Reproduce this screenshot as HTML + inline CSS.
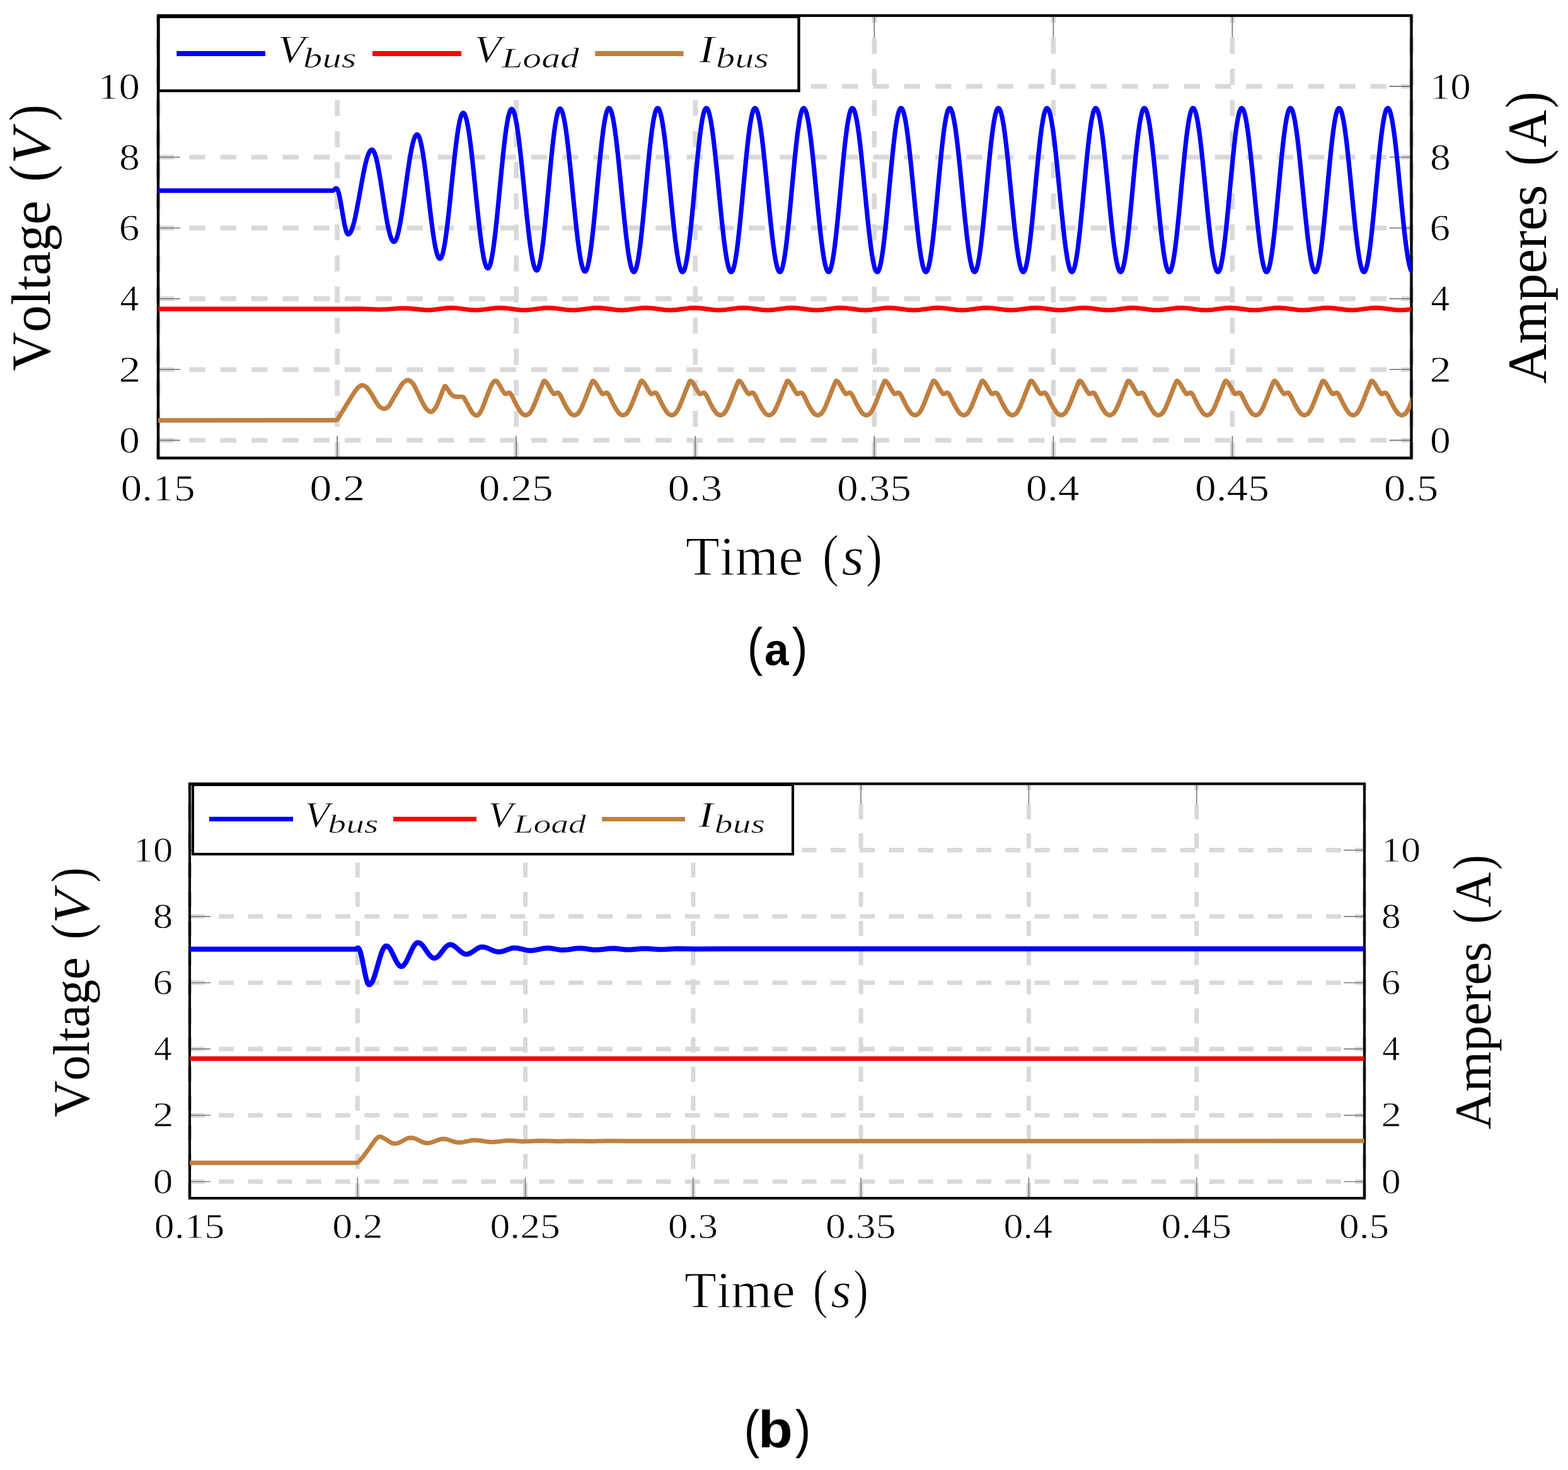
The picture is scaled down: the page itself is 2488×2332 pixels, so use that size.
<!DOCTYPE html><html><head><meta charset="utf-8"><title>Figure</title><style>html,body{margin:0;padding:0;background:#fff;}body{width:2488px;height:2332px;overflow:hidden;}svg{display:block;}text{font-kerning:none;}</style></head><body>
<svg width="2488" height="2332" viewBox="0 0 2488 2332" font-family="'Liberation Serif', 'Times New Roman', serif" fill="#000" text-rendering="geometricPrecision">
<rect width="2488" height="2332" fill="#fff"/>
<clipPath id="clipA"><rect x="251" y="24.7" width="1988.5" height="701.9"/></clipPath>
<path d="M251 698.5H2239.5M251 586.2H2239.5M251 473.9H2239.5M251 361.6H2239.5M251 249.3H2239.5M251 137H2239.5M251 726.6V24.7M535.1 726.6V24.7M819.1 726.6V24.7M1103.2 726.6V24.7M1387.3 726.6V24.7M1671.4 726.6V24.7M1955.4 726.6V24.7M2239.5 726.6V24.7" stroke="#d9d9d9" stroke-width="7.6" stroke-dasharray="25.40 23.92" fill="none"/>
<path d="M251 698.5h35M2239.5 698.5h-35M251 586.2h35M2239.5 586.2h-35M251 473.9h35M2239.5 473.9h-35M251 361.6h35M2239.5 361.6h-35M251 249.3h35M2239.5 249.3h-35M251 137h35M2239.5 137h-35M535.1 726.6v-35M535.1 24.7v35M819.1 726.6v-35M819.1 24.7v35M1103.2 726.6v-35M1103.2 24.7v35M1387.3 726.6v-35M1387.3 24.7v35M1671.4 726.6v-35M1671.4 24.7v35M1955.4 726.6v-35M1955.4 24.7v35" stroke="#7f7f7f" stroke-width="1.8" fill="none"/>
<rect x="251" y="24.7" width="1988.5" height="701.9" fill="none" stroke="#000" stroke-width="4.4"/>
<g clip-path="url(#clipA)" fill="none" stroke-linejoin="round" stroke-linecap="round">
<path stroke="#0000ff" stroke-width="7.20" d="M245 302.4 L528.5 302.3 L530 301.3 L532 299.3 L533 298.8 L534 298.8 L534.5 299.2 L535 299.8 L536 301.8 L537 304.7 L538 308.4 L539 312.8 L540 317.8 L541.5 326.2 L545 347.1 L546.5 355.2 L547.5 359.9 L548.5 364 L549.5 367.3 L550.5 369.7 L551 370.6 L551.5 371.2 L552 371.6 L553 371.6 L554.5 370.8 L556 368.8 L557.5 365.9 L559 362 L560.5 357.2 L562 351.6 L563.5 345.2 L565 338.2 L567 328 L569.5 314.4 L574.5 286.6 L576.5 276 L578.5 266.3 L580 259.7 L581.5 253.8 L583 248.7 L584.5 244.5 L586 241.2 L587.5 239 L589 237.7 L590 237.5 L591 237.8 L592 238.7 L593 240.1 L594 242.2 L595 244.7 L596 247.8 L597 251.4 L598.5 257.7 L600 265 L601.5 273.1 L603 281.8 L605 294.3 L610.5 329.9 L612.5 342.2 L614 350.7 L615.5 358.5 L617 365.5 L618.5 371.4 L619.5 374.8 L620.5 377.6 L621.5 379.9 L622.5 381.7 L623.5 382.8 L624.5 383.4 L625.5 383.4 L626.5 382.8 L627.5 381.6 L628.5 379.7 L629.5 377.3 L630.5 374.3 L631.5 370.7 L632.5 366.6 L634 359.6 L635.5 351.6 L637 342.6 L638.5 333 L640.5 319.3 L646.5 276.2 L648.5 262.6 L650 253 L651.5 244.2 L653 236.3 L654 231.5 L655 227.3 L656 223.6 L657 220.4 L658 217.8 L659 215.8 L660 214.4 L661 213.6 L662 213.4 L663 213.9 L664 215.2 L665 217.1 L666 219.8 L667 223.2 L668 227.3 L669 232 L670 237.3 L671 243.1 L672 249.5 L673.5 259.9 L675 271.3 L676.5 283.3 L679 304.2 L682.5 334 L684.5 350.2 L686 361.7 L687.5 372.3 L688.5 378.8 L689.5 384.8 L690.5 390.3 L691.5 395.2 L692.5 399.4 L693.5 403 L694.5 405.9 L695.5 408.1 L696.5 409.6 L697.5 410.4 L698.5 410.3 L699.5 409.5 L700.5 407.9 L701.5 405.4 L702.5 402.1 L703.5 398.1 L704.5 393.3 L705.5 387.8 L706.5 381.6 L707.5 374.8 L708.5 367.4 L709.5 359.6 L711 346.9 L712.5 333.3 L714.5 314.3 L719 270.4 L720.5 256.2 L722 242.7 L723.5 230 L724.5 222.1 L725.5 214.7 L726.5 208 L727.5 201.8 L728.5 196.3 L729.5 191.5 L730.5 187.5 L731.5 184.2 L732.5 181.7 L733.5 180 L734.5 179.2 L735.5 179.2 L736.5 180 L737.5 181.6 L738.5 184 L739.5 187.1 L740.5 191 L741.5 195.5 L742.5 200.8 L743.5 206.8 L744.5 213.3 L745.5 220.4 L746.5 228.1 L748 240.5 L749.5 253.7 L751 267.7 L753.5 292 L757 326.5 L759 345.5 L760.5 359.1 L762 371.8 L763 379.8 L764 387.2 L765 394.1 L766 400.4 L767 406.1 L768 411.1 L769 415.4 L770 419 L771 421.8 L772 423.9 L773 425.1 L774 425.6 L775 425.3 L776 424 L777 422 L778 419 L779 415.3 L780 410.7 L781 405.4 L782 399.3 L783 392.6 L784 385.2 L785 377.2 L786 368.7 L787.5 355 L789 340.5 L791 320.2 L795.5 273.2 L797 258 L798.5 243.5 L800 229.8 L801 221.3 L802 213.3 L803 206 L804 199.2 L805 193.1 L806 187.8 L807 183.3 L808 179.5 L809 176.6 L810 174.5 L811 173.3 L812 172.9 L813 173.4 L814 174.7 L815 176.8 L816 179.6 L817 183.2 L818 187.6 L819 192.6 L820 198.3 L821 204.7 L822 211.7 L823 219.2 L824.5 231.5 L826 244.7 L827.5 258.7 L829.5 278.3 L834.5 328.6 L836.5 348 L838 361.7 L839.5 374.6 L840.5 382.7 L841.5 390.2 L842.5 397.2 L843.5 403.6 L844.5 409.3 L845.5 414.4 L846.5 418.7 L847.5 422.3 L848.5 425.1 L849.5 427.2 L850.5 428.5 L851.5 429 L852.5 428.6 L853.5 427.3 L854.5 425.1 L855.5 422 L856.5 418 L857.5 413.2 L858.5 407.6 L859.5 401.2 L860.5 394.1 L861.5 386.3 L862.5 377.8 L863.5 368.9 L865 354.5 L866.5 339.3 L868.5 318.1 L872.5 274.7 L874 259 L875.5 243.9 L877 229.7 L878 220.9 L879 212.7 L880 205.1 L881 198.2 L882 192 L883 186.6 L884 182 L885 178.3 L886 175.5 L887 173.6 L888 172.5 L889 172.4 L890 173.2 L891 174.7 L892 177 L893 180.1 L894 184 L895 188.6 L896 193.9 L897 199.9 L898 206.5 L899 213.7 L900 221.5 L901.5 234 L903 247.5 L904.5 261.8 L906.5 281.7 L911 327.4 L913 347 L914.5 361 L916 374.2 L917 382.4 L918 390.1 L919 397.2 L920 403.8 L921 409.7 L922 414.9 L923 419.5 L924 423.3 L925 426.3 L926 428.5 L927 430 L928 430.6 L929 430.4 L930 429.4 L931 427.4 L932 424.6 L933 421 L934 416.5 L935 411.3 L936 405.3 L937 398.6 L938 391.2 L939 383.2 L940 374.6 L941.5 360.9 L943 346.2 L945 325.6 L950 272.4 L951.5 257 L953 242.3 L954.5 228.4 L955.5 219.8 L956.5 211.8 L957.5 204.3 L958.5 197.6 L959.5 191.5 L960.5 186.1 L961.5 181.6 L962.5 177.9 L963.5 175 L964.5 173 L965.5 171.8 L966.5 171.5 L967.5 172.1 L968.5 173.5 L969.5 175.7 L970.5 178.7 L971.5 182.5 L972.5 187 L973.5 192.3 L974.5 198.2 L975.5 204.8 L976.5 212 L977.5 219.8 L978.5 228.1 L980 241.4 L981.5 255.5 L983.5 275.3 L988.5 326.7 L990.5 346.6 L992 360.8 L993.5 374.1 L994.5 382.4 L995.5 390.3 L996.5 397.5 L997.5 404.2 L998.5 410.2 L999.5 415.5 L1000.5 420.1 L1001.5 424 L1002.5 427.1 L1003.5 429.3 L1004.5 430.8 L1005.5 431.5 L1006.5 431.3 L1007.5 430.2 L1008.5 428.2 L1009.5 425.4 L1010.5 421.7 L1011.5 417.1 L1012.5 411.8 L1013.5 405.7 L1014.5 398.9 L1015.5 391.4 L1016.5 383.2 L1017.5 374.6 L1019 360.6 L1020.5 345.7 L1022.5 324.8 L1027 276.4 L1028.5 260.7 L1030 245.7 L1031.5 231.5 L1032.5 222.6 L1033.5 214.3 L1034.5 206.6 L1035.5 199.5 L1036.5 193.2 L1037.5 187.6 L1038.5 182.8 L1039.5 178.8 L1040.5 175.6 L1041.5 173.4 L1042.5 172 L1043.5 171.5 L1044.5 171.9 L1045.5 173.1 L1046.5 175.1 L1047.5 178 L1048.5 181.6 L1049.5 185.9 L1050.5 191 L1051.5 196.8 L1052.5 203.2 L1053.5 210.3 L1054.5 217.9 L1055.5 226.1 L1057 239.3 L1058.5 253.3 L1060 268 L1062.5 293.5 L1066 329.4 L1068 349.2 L1069.5 363.2 L1071 376.4 L1072 384.6 L1073 392.3 L1074 399.4 L1075 405.9 L1076 411.7 L1077 416.8 L1078 421.2 L1079 424.9 L1080 427.8 L1081 429.8 L1082 431.1 L1083 431.5 L1084 431.1 L1085 429.8 L1086 427.6 L1087 424.5 L1088 420.5 L1089 415.8 L1090 410.2 L1091 403.9 L1092 396.9 L1093 389.2 L1094 380.9 L1095 372.1 L1096.5 358 L1098 342.9 L1100 321.9 L1104.5 273.5 L1106 257.9 L1107.5 243 L1109 229 L1110 220.3 L1111 212.1 L1112 204.6 L1113 197.7 L1114 191.6 L1115 186.2 L1116 181.6 L1117 177.9 L1118 174.9 L1119 172.9 L1120 171.8 L1121 171.6 L1122 172.2 L1123 173.6 L1124 175.8 L1125 178.9 L1126 182.7 L1127 187.2 L1128 192.5 L1129 198.5 L1130 205.1 L1131 212.3 L1132 220.1 L1133 228.4 L1134.5 241.7 L1136 255.9 L1138 275.7 L1143 327.1 L1145 347 L1146.5 361.1 L1148 374.5 L1149 382.8 L1150 390.6 L1151 397.8 L1152 404.5 L1153 410.4 L1154 415.7 L1155 420.3 L1156 424.1 L1157 427.2 L1158 429.4 L1159 430.9 L1160 431.5 L1161 431.3 L1162 430.1 L1163 428.1 L1164 425.3 L1165 421.5 L1166 416.9 L1167 411.6 L1168 405.4 L1169 398.6 L1170 391.1 L1171 382.9 L1172 374.2 L1173.5 360.2 L1175 345.3 L1177 324.4 L1181.5 276 L1183 260.3 L1184.5 245.3 L1186 231.1 L1187 222.3 L1188 214 L1189 206.3 L1190 199.3 L1191 192.9 L1192 187.4 L1193 182.6 L1194 178.6 L1195 175.5 L1196 173.3 L1197 172 L1198 171.5 L1199 172 L1200 173.2 L1201 175.2 L1202 178.1 L1203 181.7 L1204 186.1 L1205 191.2 L1206 197 L1207 203.5 L1208 210.6 L1209 218.3 L1210 226.5 L1211.5 239.6 L1213 253.7 L1214.5 268.4 L1217 293.9 L1220.5 329.8 L1222 344.7 L1223.5 359 L1225 372.5 L1226 380.9 L1227 388.8 L1228 396.2 L1229 403 L1230 409.1 L1231 414.6 L1232 419.3 L1233 423.3 L1234 426.5 L1235 429 L1236 430.6 L1237 431.4 L1238 431.4 L1239 430.5 L1240 428.7 L1241 426 L1242 422.4 L1243 418.1 L1244 412.9 L1245 406.9 L1246 400.2 L1247 392.8 L1248 384.8 L1249 376.2 L1250.5 362.4 L1252 347.6 L1253.5 332.1 L1256.5 300 L1259 273.1 L1260.5 257.5 L1262 242.6 L1263.5 228.7 L1264.5 220 L1265.5 211.8 L1266.5 204.3 L1267.5 197.5 L1268.5 191.4 L1269.5 186 L1270.5 181.4 L1271.5 177.7 L1272.5 174.9 L1273.5 172.9 L1274.5 171.8 L1275.5 171.6 L1276.5 172.2 L1277.5 173.7 L1278.5 175.9 L1279.5 179 L1280.5 182.8 L1281.5 187.4 L1282.5 192.7 L1283.5 198.7 L1284.5 205.4 L1285.5 212.6 L1286.5 220.4 L1288 233.1 L1289.5 246.7 L1291 261.2 L1293 281.2 L1297.5 327.5 L1299.5 347.3 L1301 361.5 L1302.5 374.8 L1303.5 383.1 L1304.5 390.9 L1305.5 398.1 L1306.5 404.7 L1307.5 410.7 L1308.5 415.9 L1309.5 420.5 L1310.5 424.3 L1311.5 427.3 L1312.5 429.5 L1313.5 430.9 L1314.5 431.5 L1315.5 431.2 L1316.5 430.1 L1317.5 428 L1318.5 425.1 L1319.5 421.3 L1320.5 416.7 L1321.5 411.3 L1322.5 405.2 L1323.5 398.3 L1324.5 390.7 L1325.5 382.6 L1326.5 373.8 L1328 359.8 L1329.5 344.9 L1331.5 324 L1336 275.6 L1337.5 259.9 L1339 244.9 L1340.5 230.7 L1341.5 221.9 L1342.5 213.6 L1343.5 206 L1344.5 199 L1345.5 192.7 L1346.5 187.2 L1347.5 182.4 L1348.5 178.5 L1349.5 175.4 L1350.5 173.2 L1351.5 171.9 L1352.5 171.5 L1353.5 172 L1354.5 173.3 L1355.5 175.3 L1356.5 178.2 L1357.5 181.9 L1358.5 186.3 L1359.5 191.4 L1360.5 197.3 L1361.5 203.8 L1362.5 210.9 L1363.5 218.6 L1364.5 226.8 L1366 240 L1367.5 254.1 L1369.5 273.8 L1375 330.2 L1376.5 345.1 L1378 359.4 L1379.5 372.8 L1380.5 381.2 L1381.5 389.1 L1382.5 396.5 L1383.5 403.2 L1384.5 409.3 L1385.5 414.8 L1386.5 419.5 L1387.5 423.5 L1388.5 426.6 L1389.5 429 L1390.5 430.6 L1391.5 431.4 L1392.5 431.4 L1393.5 430.4 L1394.5 428.6 L1395.5 425.9 L1396.5 422.3 L1397.5 417.9 L1398.5 412.6 L1399.5 406.7 L1400.5 399.9 L1401.5 392.5 L1402.5 384.5 L1403.5 375.9 L1405 362 L1406.5 347.2 L1408 331.7 L1411 299.5 L1413.5 272.7 L1415 257.1 L1416.5 242.3 L1418 228.3 L1419 219.6 L1420 211.5 L1421 204 L1422 197.2 L1423 191.1 L1424 185.8 L1425 181.3 L1426 177.6 L1427 174.8 L1428 172.8 L1429 171.7 L1430 171.6 L1431 172.2 L1432 173.7 L1433 176 L1434 179.1 L1435 183 L1436 187.6 L1437 192.9 L1438 199 L1439 205.6 L1440 212.9 L1441 220.8 L1442.5 233.4 L1444 247.1 L1445.5 261.5 L1447.5 281.6 L1452 327.9 L1454 347.7 L1455.5 361.9 L1457 375.1 L1458 383.4 L1459 391.2 L1460 398.4 L1461 405 L1462 410.9 L1463 416.1 L1464 420.6 L1465 424.4 L1466 427.4 L1467 429.6 L1468 430.9 L1469 431.5 L1470 431.2 L1471 430 L1472 427.9 L1473 425 L1474 421.2 L1475 416.5 L1476 411.1 L1477 404.9 L1478 398 L1479 390.4 L1480 382.2 L1481 373.5 L1482.5 359.4 L1484 344.5 L1486 323.5 L1490.5 275.1 L1492 259.5 L1493.5 244.5 L1495 230.4 L1496 221.6 L1497 213.3 L1498 205.7 L1499 198.7 L1500 192.5 L1501 187 L1502 182.2 L1503 178.4 L1504 175.3 L1505 173.2 L1506 171.9 L1507 171.5 L1508 172 L1509 173.3 L1510 175.4 L1511 178.3 L1512 182 L1513 186.5 L1514 191.7 L1515 197.5 L1516 204 L1517 211.2 L1518 218.9 L1519 227.1 L1520.5 240.4 L1522 254.4 L1524 274.2 L1529.5 330.6 L1531 345.5 L1532.5 359.7 L1534 373.2 L1535 381.6 L1536 389.4 L1537 396.8 L1538 403.5 L1539 409.6 L1540 415 L1541 419.7 L1542 423.6 L1543 426.8 L1544 429.1 L1545 430.7 L1546 431.4 L1547 431.3 L1548 430.4 L1549 428.5 L1550 425.7 L1551 422.1 L1552 417.7 L1553 412.4 L1554 406.4 L1555 399.7 L1556 392.2 L1557 384.2 L1558 375.5 L1559.5 361.6 L1561 346.8 L1562.5 331.3 L1565.5 299.1 L1568 272.3 L1569.5 256.7 L1571 241.9 L1572.5 228 L1573.5 219.3 L1574.5 211.2 L1575.5 203.7 L1576.5 197 L1577.5 190.9 L1578.5 185.6 L1579.5 181.1 L1580.5 177.5 L1581.5 174.7 L1582.5 172.7 L1583.5 171.7 L1584.5 171.6 L1585.5 172.3 L1586.5 173.8 L1587.5 176.1 L1588.5 179.3 L1589.5 183.2 L1590.5 187.8 L1591.5 193.2 L1592.5 199.2 L1593.5 205.9 L1594.5 213.2 L1595.5 221.1 L1597 233.8 L1598.5 247.5 L1600 261.9 L1602 282.1 L1606.5 328.3 L1608.5 348.1 L1610 362.2 L1611.5 375.5 L1612.5 383.7 L1613.5 391.5 L1614.5 398.6 L1615.5 405.2 L1616.5 411.1 L1617.5 416.3 L1618.5 420.8 L1619.5 424.5 L1620.5 427.5 L1621.5 429.6 L1622.5 431 L1623.5 431.5 L1624.5 431.2 L1625.5 430 L1626.5 427.8 L1627.5 424.9 L1628.5 421 L1629.5 416.3 L1630.5 410.9 L1631.5 404.6 L1632.5 397.7 L1633.5 390.1 L1634.5 381.9 L1635.5 373.1 L1637 359 L1638.5 344.1 L1640.5 323.1 L1645 274.7 L1646.5 259.1 L1648 244.1 L1649.5 230 L1650.5 221.2 L1651.5 213 L1652.5 205.4 L1653.5 198.5 L1654.5 192.2 L1655.5 186.8 L1656.5 182.1 L1657.5 178.2 L1658.5 175.2 L1659.5 173.1 L1660.5 171.9 L1661.5 171.5 L1662.5 172.1 L1663.5 173.4 L1664.5 175.5 L1665.5 178.5 L1666.5 182.2 L1667.5 186.7 L1668.5 191.9 L1669.5 197.8 L1670.5 204.3 L1671.5 211.5 L1672.5 219.2 L1673.5 227.5 L1675 240.7 L1676.5 254.8 L1678.5 274.6 L1684 331 L1685.5 345.9 L1687 360.1 L1688.5 373.5 L1689.5 381.9 L1690.5 389.7 L1691.5 397.1 L1692.5 403.8 L1693.5 409.8 L1694.5 415.2 L1695.5 419.8 L1696.5 423.7 L1697.5 426.9 L1698.5 429.2 L1699.5 430.7 L1700.5 431.5 L1701.5 431.3 L1702.5 430.3 L1703.5 428.4 L1704.5 425.6 L1705.5 422 L1706.5 417.5 L1707.5 412.2 L1708.5 406.1 L1709.5 399.4 L1710.5 391.9 L1711.5 383.8 L1712.5 375.2 L1714 361.3 L1715.5 346.4 L1717.5 325.6 L1722.5 271.9 L1724 256.3 L1725.5 241.5 L1727 227.6 L1728 219 L1729 210.9 L1730 203.5 L1731 196.7 L1732 190.7 L1733 185.4 L1734 181 L1735 177.3 L1736 174.6 L1737 172.7 L1738 171.7 L1739 171.6 L1740 172.3 L1741 173.9 L1742 176.3 L1743 179.4 L1744 183.3 L1745 188 L1746 193.4 L1747 199.5 L1748 206.2 L1749 213.5 L1750 221.4 L1751.5 234.2 L1753 247.9 L1754.5 262.3 L1756.5 282.5 L1761 328.7 L1763 348.5 L1764.5 362.6 L1766 375.8 L1767 384.1 L1768 391.8 L1769 398.9 L1770 405.5 L1771 411.3 L1772 416.5 L1773 421 L1774 424.7 L1775 427.6 L1776 429.7 L1777 431 L1778 431.5 L1779 431.1 L1780 429.9 L1781 427.7 L1782 424.7 L1783 420.8 L1784 416.1 L1785 410.6 L1786 404.4 L1787 397.4 L1788 389.8 L1789 381.5 L1790 372.7 L1791.5 358.6 L1793 343.7 L1795 322.7 L1799.5 274.3 L1801 258.7 L1802.5 243.7 L1804 229.7 L1805 220.9 L1806 212.7 L1807 205.1 L1808 198.2 L1809 192 L1810 186.5 L1811 181.9 L1812 178.1 L1813 175.1 L1814 173 L1815 171.8 L1816 171.5 L1817 172.1 L1818 173.5 L1819 175.6 L1820 178.6 L1821 182.4 L1822 186.9 L1823 192.1 L1824 198 L1825 204.6 L1826 211.8 L1827 219.5 L1828 227.8 L1829.5 241.1 L1831 255.2 L1833 275 L1838.5 331.4 L1840 346.3 L1841.5 360.5 L1843 373.9 L1844 382.2 L1845 390 L1846 397.3 L1847 404 L1848 410 L1849 415.4 L1850 420 L1851 423.9 L1852 427 L1853 429.3 L1854 430.8 L1855 431.5 L1856 431.3 L1857 430.3 L1858 428.3 L1859 425.5 L1860 421.8 L1861 417.3 L1862 412 L1863 405.9 L1864 399.1 L1865 391.6 L1866 383.5 L1867 374.8 L1868.5 360.9 L1870 346 L1872 325.1 L1876.5 276.7 L1878 261 L1879.5 246 L1881 231.7 L1882 222.9 L1883 214.5 L1884 206.8 L1885 199.7 L1886 193.4 L1887 187.7 L1888 182.9 L1889 178.9 L1890 175.7 L1891 173.4 L1892 172 L1893 171.5 L1894 171.9 L1895 173.1 L1896 175.1 L1897 177.9 L1898 181.4 L1899 185.8 L1900 190.8 L1901 196.6 L1902 203 L1903 210.1 L1904 217.7 L1905 225.9 L1906.5 239 L1908 253 L1909.5 267.7 L1912 293.2 L1915.5 329.1 L1917.5 348.9 L1919 363 L1920.5 376.2 L1921.5 384.4 L1922.5 392.1 L1923.5 399.2 L1924.5 405.7 L1925.5 411.5 L1926.5 416.7 L1927.5 421.1 L1928.5 424.8 L1929.5 427.7 L1930.5 429.8 L1931.5 431 L1932.5 431.5 L1933.5 431.1 L1934.5 429.8 L1935.5 427.6 L1936.5 424.6 L1937.5 420.7 L1938.5 415.9 L1939.5 410.4 L1940.5 404.1 L1941.5 397.1 L1942.5 389.5 L1943.5 381.2 L1944.5 372.4 L1946 358.3 L1947.5 343.2 L1949.5 322.3 L1954 273.9 L1955.5 258.3 L1957 243.3 L1958.5 229.3 L1959.5 220.6 L1960.5 212.4 L1961.5 204.8 L1962.5 197.9 L1963.5 191.8 L1964.5 186.3 L1965.5 181.7 L1966.5 178 L1967.5 175 L1968.5 173 L1969.5 171.8 L1970.5 171.6 L1971.5 172.1 L1972.5 173.5 L1973.5 175.7 L1974.5 178.8 L1975.5 182.5 L1976.5 187.1 L1977.5 192.3 L1978.5 198.3 L1979.5 204.9 L1980.5 212.1 L1981.5 219.9 L1982.5 228.2 L1984 241.4 L1985.5 255.6 L1987.5 275.4 L1992.5 326.8 L1994.5 346.7 L1996 360.9 L1997.5 374.2 L1998.5 382.5 L1999.5 390.4 L2000.5 397.6 L2001.5 404.3 L2002.5 410.3 L2003.5 415.6 L2004.5 420.2 L2005.5 424 L2006.5 427.1 L2007.5 429.4 L2008.5 430.8 L2009.5 431.5 L2010.5 431.3 L2011.5 430.2 L2012.5 428.2 L2013.5 425.4 L2014.5 421.6 L2015.5 417.1 L2016.5 411.7 L2017.5 405.6 L2018.5 398.8 L2019.5 391.3 L2020.5 383.2 L2021.5 374.5 L2023 360.5 L2024.5 345.6 L2026.5 324.7 L2031 276.3 L2032.5 260.6 L2034 245.6 L2035.5 231.4 L2036.5 222.5 L2037.5 214.2 L2038.5 206.5 L2039.5 199.5 L2040.5 193.1 L2041.5 187.5 L2042.5 182.7 L2043.5 178.7 L2044.5 175.6 L2045.5 173.4 L2046.5 172 L2047.5 171.5 L2048.5 171.9 L2049.5 173.1 L2050.5 175.2 L2051.5 178 L2052.5 181.6 L2053.5 186 L2054.5 191.1 L2055.5 196.8 L2056.5 203.3 L2057.5 210.4 L2058.5 218 L2059.5 226.2 L2061 239.4 L2062.5 253.4 L2064 268.1 L2066.5 293.6 L2070 329.5 L2071.5 344.4 L2073 358.7 L2074.5 372.2 L2075.5 380.7 L2076.5 388.6 L2077.5 396 L2078.5 402.8 L2079.5 408.9 L2080.5 414.4 L2081.5 419.2 L2082.5 423.2 L2083.5 426.4 L2084.5 428.9 L2085.5 430.6 L2086.5 431.4 L2087.5 431.4 L2088.5 430.5 L2089.5 428.7 L2090.5 426.1 L2091.5 422.6 L2092.5 418.2 L2093.5 413 L2094.5 407.1 L2095.5 400.4 L2096.5 393.1 L2097.5 385.1 L2098.5 376.5 L2100 362.7 L2101.5 347.9 L2103 332.4 L2106 300.3 L2108.5 273.4 L2110 257.8 L2111.5 242.9 L2113 228.9 L2114 220.2 L2115 212.1 L2116 204.5 L2117 197.7 L2118 191.5 L2119 186.1 L2120 181.6 L2121 177.8 L2122 174.9 L2123 172.9 L2124 171.8 L2125 171.6 L2126 172.2 L2127 173.6 L2128 175.9 L2129 178.9 L2130 182.7 L2131 187.3 L2132 192.5 L2133 198.5 L2134 205.2 L2135 212.4 L2136 220.2 L2137.5 232.8 L2139 246.5 L2140.5 260.9 L2142.5 280.9 L2147 327.2 L2149 347.1 L2150.5 361.2 L2152 374.5 L2153 382.9 L2154 390.7 L2155 397.9 L2156 404.5 L2157 410.5 L2158 415.8 L2159 420.3 L2160 424.2 L2161 427.2 L2162 429.4 L2163 430.9 L2164 431.5 L2165 431.3 L2166 430.1 L2167 428.1 L2168 425.2 L2169 421.5 L2170 416.9 L2171 411.5 L2172 405.4 L2173 398.5 L2174 391 L2175 382.8 L2176 374.1 L2177.5 360.1 L2179 345.2 L2181 324.3 L2185.5 275.9 L2187 260.2 L2188.5 245.2 L2190 231 L2191 222.2 L2192 213.9 L2193 206.2 L2194 199.2 L2195 192.9 L2196 187.3 L2197 182.5 L2198 178.6 L2199 175.5 L2200 173.3 L2201 172 L2202 171.5 L2203 172 L2204 173.2 L2205 175.3 L2206 178.1 L2207 181.8 L2208 186.1 L2209 191.3 L2210 197.1 L2211 203.6 L2212 210.7 L2213 218.3 L2214 226.5 L2215.5 239.7 L2217 253.8 L2218.5 268.5 L2221 294 L2224.5 329.9 L2226 344.8 L2227.5 359.1 L2229 372.6 L2230 381 L2231 388.9 L2232 396.3 L2233 403 L2234 409.2 L2235 414.6 L2236 419.4 L2237 423.3 L2238 426.6 L2239 429 L2240 430.6 L2241 431.4 L2242 431.4 L2243 430.5 L2244 428.7 L2245 426"/>
<path stroke="#ff0000" stroke-width="7.20" d="M245 490.2 L550 490.1 L572 489.9 L602 491 L615 490.5 L636 489 L646.5 489.1 L660 490.4 L673 491.7 L682 491.8 L691.5 490.9 L708 488.7 L717 488.4 L726.5 489 L747 491.7 L756 492 L765.5 491.3 L785.5 488.7 L794.5 488.4 L804 489 L824 491.6 L833 492 L842.5 491.3 L862.5 488.7 L871.5 488.4 L881 489 L901.5 491.7 L910.5 492 L920 491.3 L940 488.7 L949 488.4 L958.5 489.1 L978.5 491.6 L987.5 492 L997 491.3 L1017 488.7 L1026 488.4 L1035.5 489 L1055.5 491.6 L1064.5 492 L1074 491.4 L1094.5 488.7 L1103.5 488.4 L1113 489.1 L1133 491.6 L1142 492 L1151.5 491.3 L1171.5 488.7 L1180.5 488.4 L1190 489 L1210 491.6 L1219 492 L1228.5 491.3 L1249 488.7 L1258 488.4 L1267.5 489.1 L1287.5 491.6 L1296.5 492 L1306 491.3 L1326 488.7 L1335 488.4 L1344.5 489 L1364.5 491.6 L1373.5 492 L1383 491.3 L1403.5 488.7 L1412.5 488.4 L1422 489.1 L1442 491.7 L1451 492 L1460.5 491.3 L1480.5 488.7 L1489.5 488.4 L1499 489 L1519 491.6 L1528 492 L1537.5 491.3 L1557.5 488.7 L1566.5 488.4 L1576 489 L1596.5 491.7 L1605.5 492 L1615 491.3 L1635 488.7 L1644 488.4 L1653.5 489 L1673.5 491.6 L1682.5 492 L1692 491.3 L1712 488.7 L1721 488.4 L1730.5 489 L1751 491.7 L1760 492 L1769.5 491.3 L1789.5 488.7 L1798.5 488.4 L1808 489 L1828 491.6 L1837 492 L1846.5 491.3 L1866.5 488.7 L1875.5 488.4 L1885 489 L1905.5 491.7 L1914.5 492 L1924 491.3 L1944 488.7 L1953 488.4 L1962.5 489.1 L1982.5 491.6 L1991.5 492 L2001 491.3 L2021 488.7 L2030 488.4 L2039.5 489 L2059.5 491.6 L2068.5 492 L2078 491.4 L2098.5 488.7 L2107.5 488.4 L2117 489.1 L2137 491.6 L2146 492 L2155.5 491.3 L2175.5 488.7 L2184.5 488.4 L2194 489 L2214 491.6 L2223 492 L2232.5 491.3 L2245 489.6"/>
<path stroke="#bf8040" stroke-width="7.20" d="M245 666.8 L531.5 666.7 L534.5 666 L535.5 665.2 L537 663.1 L540 658.1 L544.5 650.9 L561 624.2 L564 619.9 L567.5 615.4 L569.5 613.5 L573 611.5 L575 611.2 L577.5 611.9 L581 613.8 L583 615.8 L586.5 620.6 L589.5 625 L595.5 635.4 L600.5 643.2 L602 644.9 L604.5 646.6 L607.5 648.1 L610 648.5 L612 648 L615 646 L617 644.2 L618.5 642.1 L621.5 636.8 L624.5 631.4 L632 618.8 L637 610.5 L639 607.9 L642.5 605 L645 603.5 L647 603 L649 603.5 L651.5 604.9 L654.5 607.5 L656 609.4 L658 612.9 L664 625.1 L668.5 634.9 L673 643.4 L675 646.6 L676.5 648.6 L680.5 652.3 L682.5 653.4 L684 653.5 L685.5 653 L687.5 651.3 L690.5 647.9 L692 645.4 L694 641.1 L698 631.5 L701.5 622.2 L703 618.5 L704.5 614.7 L705 613.7 L705.5 613 L706 612.6 L706.5 612.6 L707.5 613.4 L712 620.1 L714 623.2 L716.5 625.9 L719 628 L720.5 628.8 L726 629.4 L734.5 629.5 L735.5 630.3 L737 632.4 L742 641.5 L745.5 648.2 L749 654.1 L750.5 655.9 L753.5 658.2 L755.5 659.1 L757 659.1 L758.5 658.5 L760 657.1 L761.5 655.1 L763.5 651.6 L765.5 647.2 L768 641 L775.5 620.8 L778 614.8 L780 610.7 L782 607.4 L783.5 605.6 L785 604.5 L786.5 604.2 L787.5 604.5 L789 605.9 L791 608.3 L793 611.7 L797.5 619.7 L800.5 624 L801.5 624.9 L802.5 624.9 L807 623.1 L808 623 L809 623.4 L811 625.6 L812 627.2 L819 641.6 L822.5 647.8 L826.5 653.8 L828 655.8 L829.5 657 L832.5 658.4 L834.5 658.6 L836.5 658.1 L839.5 656.3 L841 654.8 L843 651.6 L845.5 647 L848 641.3 L851.5 632.6 L857 618.3 L860.5 609.9 L862 606.1 L862.5 605.2 L863 604.5 L863.5 604.2 L864.5 604.4 L866 605.7 L868.5 608.7 L875 620.1 L878 624.3 L879 624.9 L880.5 624.6 L884 623.2 L885.5 623 L886.5 623.7 L888.5 626 L889.5 627.7 L896 641.1 L899.5 647.4 L903 652.8 L905 655.5 L906.5 656.9 L909.5 658.3 L911.5 658.6 L913.5 658.2 L916.5 656.5 L918 655.1 L920 652 L922.5 647.5 L924.5 643 L928 634.5 L934 618.9 L936.5 612.9 L939 606.6 L939.5 605.6 L940 604.8 L940.5 604.3 L941.5 604.3 L943 605.4 L945.5 608.3 L947.5 611.8 L952 619.7 L955 624 L956 624.9 L957 624.8 L961.5 623.1 L962.5 623 L963.5 623.5 L965.5 625.7 L966.5 627.3 L973.5 641.7 L977 647.9 L981 653.9 L982.5 655.8 L984 657 L987 658.4 L989 658.6 L991 658.1 L994 656.3 L995.5 654.7 L997.5 651.5 L1000 646.9 L1002.5 641.2 L1005.5 633.8 L1011.5 618.2 L1015 609.8 L1016.5 606 L1017 605.1 L1017.5 604.5 L1018 604.2 L1019 604.4 L1020.5 605.7 L1023 608.7 L1029.5 620.2 L1032 623.8 L1033 624.8 L1034 624.9 L1039 623 L1040 623 L1041 623.7 L1043 626 L1044.5 628.8 L1050.5 641.2 L1054 647.5 L1058 653.6 L1060 656.1 L1061.5 657.2 L1064.5 658.4 L1066.5 658.6 L1068.5 657.9 L1071.5 656.1 L1073 654.3 L1075.5 650.2 L1077.5 646.3 L1080.5 639.3 L1083.5 631.7 L1089 617.6 L1092 610.4 L1093.5 606.5 L1094 605.5 L1094.5 604.7 L1095 604.3 L1096 604.3 L1097.5 605.5 L1100 608.4 L1102 611.9 L1106.5 619.8 L1109.5 624.1 L1110.5 624.9 L1111.5 624.8 L1116 623.1 L1117 623 L1118 623.5 L1120 625.7 L1121 627.3 L1128 641.7 L1131.5 647.9 L1136 654.6 L1137.5 656.3 L1140 657.8 L1142.5 658.6 L1144.5 658.4 L1147 657.2 L1149 655.8 L1150.5 653.9 L1153.5 648.8 L1155.5 644.6 L1159.5 634.9 L1166 618.1 L1169.5 609.7 L1171 606 L1171.5 605.1 L1172 604.4 L1172.5 604.2 L1173.5 604.4 L1175 605.7 L1177.5 608.8 L1183.5 619.4 L1186.5 623.8 L1187.5 624.8 L1188.5 624.9 L1193 623.1 L1194.5 623.1 L1195.5 623.7 L1197.5 626.1 L1199 628.9 L1205 641.3 L1208.5 647.6 L1212.5 653.6 L1214.5 656.1 L1216 657.2 L1219 658.5 L1221 658.6 L1223 657.9 L1226 656 L1227.5 654.3 L1230 650.1 L1232 646.2 L1235 639.2 L1238 631.6 L1243.5 617.5 L1246.5 610.3 L1248 606.5 L1248.5 605.4 L1249 604.7 L1249.5 604.2 L1250.5 604.3 L1252 605.5 L1254.5 608.5 L1256.5 611.9 L1261 619.9 L1264 624.1 L1265 624.9 L1266 624.8 L1270 623.2 L1271.5 623 L1272.5 623.5 L1274.5 625.8 L1275.5 627.4 L1282 640.9 L1285.5 647.2 L1288.5 651.8 L1291 655.3 L1292.5 656.8 L1295.5 658.2 L1297.5 658.6 L1299.5 658.2 L1302.5 656.6 L1304 655.2 L1305.5 653.1 L1308.5 647.8 L1310.5 643.4 L1314.5 633.6 L1320.5 618 L1323.5 610.9 L1325 607 L1326 605 L1326.5 604.4 L1327 604.2 L1328 604.5 L1329.5 605.8 L1331.5 608.1 L1333 610.6 L1338 619.5 L1341 623.9 L1342 624.8 L1343 624.9 L1347.5 623.1 L1349 623.1 L1350 623.8 L1352 626.2 L1353.5 629 L1359.5 641.4 L1363 647.6 L1367 653.7 L1369 656.2 L1370.5 657.2 L1373.5 658.5 L1375.5 658.6 L1377.5 657.9 L1380.5 656 L1382 654.2 L1384.5 650 L1386.5 646.2 L1390 637.9 L1394 627.6 L1399 614.9 L1401 610.2 L1402.5 606.4 L1403 605.4 L1403.5 604.6 L1404 604.2 L1405 604.4 L1406.5 605.5 L1409 608.5 L1411.5 612.9 L1415.5 619.9 L1418.5 624.2 L1419.5 624.9 L1421 624.6 L1424.5 623.2 L1426 623 L1427 623.6 L1429 625.8 L1430 627.5 L1436.5 640.9 L1440 647.2 L1443.5 652.6 L1445.5 655.4 L1447 656.8 L1450 658.2 L1452 658.6 L1454 658.2 L1457 656.6 L1458.5 655.2 L1460 653 L1463 647.7 L1465 643.3 L1469 633.4 L1475 617.9 L1478 610.8 L1479.5 606.9 L1480.5 604.9 L1481 604.4 L1481.5 604.2 L1482.5 604.5 L1484 605.8 L1486 608.2 L1487.5 610.7 L1492.5 619.6 L1495.5 623.9 L1496.5 624.8 L1497.5 624.9 L1502 623.1 L1503 623 L1504 623.4 L1506 625.5 L1507 627.1 L1514 641.4 L1517.5 647.7 L1521.5 653.7 L1523.5 656.2 L1525.5 657.5 L1528 658.5 L1530 658.6 L1532.5 657.6 L1535 656 L1536.5 654.2 L1539 649.9 L1541 646.1 L1544.5 637.8 L1553 616 L1555.5 610.1 L1557 606.3 L1557.5 605.3 L1558 604.6 L1558.5 604.2 L1559.5 604.4 L1561 605.6 L1563.5 608.6 L1570 620 L1573 624.2 L1574 624.9 L1575.5 624.6 L1579 623.2 L1580.5 623 L1581.5 623.6 L1583.5 625.9 L1584.5 627.6 L1591 641 L1594.5 647.3 L1598 652.7 L1600 655.4 L1601.5 656.8 L1604.5 658.3 L1606.5 658.6 L1608.5 658.2 L1611.5 656.5 L1613 655.1 L1614.5 653 L1617.5 647.6 L1619.5 643.2 L1623.5 633.3 L1629.5 617.8 L1632.5 610.7 L1634 606.8 L1635 604.9 L1635.5 604.3 L1636 604.2 L1637 604.5 L1638.5 605.9 L1640.5 608.2 L1642.5 611.7 L1647 619.6 L1650 624 L1651 624.8 L1652 624.9 L1656.5 623.1 L1657.5 623 L1658.5 623.4 L1660.5 625.6 L1661.5 627.1 L1668.5 641.5 L1672 647.8 L1676 653.8 L1677.5 655.7 L1679 657 L1682 658.3 L1684 658.6 L1686 658.1 L1689 656.3 L1690.5 654.8 L1692.5 651.6 L1695 647 L1697.5 641.3 L1701 632.6 L1706.5 618.4 L1710 610 L1711.5 606.2 L1712 605.2 L1712.5 604.5 L1713 604.2 L1714 604.4 L1715.5 605.6 L1718 608.6 L1724.5 620 L1727.5 624.3 L1728.5 624.9 L1730 624.6 L1733.5 623.2 L1735 623 L1736 623.6 L1738 625.9 L1739 627.7 L1745.5 641.1 L1749 647.4 L1752.5 652.7 L1754.5 655.5 L1756 656.8 L1759 658.3 L1761 658.6 L1763 658.2 L1766 656.5 L1767.5 655.1 L1769.5 652 L1772 647.5 L1774 643.1 L1777.5 634.5 L1783.5 619 L1786 613 L1787.5 609.2 L1788.5 606.7 L1789.5 604.8 L1790 604.3 L1790.5 604.2 L1791.5 604.5 L1793 605.9 L1795 608.3 L1797 611.7 L1801.5 619.7 L1804.5 624 L1805.5 624.9 L1806.5 624.9 L1811 623.1 L1812 623 L1813 623.5 L1815 625.6 L1816 627.2 L1823 641.6 L1826.5 647.8 L1830.5 653.9 L1832 655.8 L1833.5 657 L1836.5 658.4 L1838.5 658.6 L1840.5 658.1 L1843.5 656.3 L1845 654.7 L1847 651.6 L1849.5 647 L1852 641.3 L1855.5 632.5 L1861 618.3 L1864.5 609.9 L1866 606.1 L1866.5 605.2 L1867 604.5 L1867.5 604.2 L1868.5 604.4 L1870 605.7 L1872.5 608.7 L1879 620.1 L1881.5 623.7 L1882.5 624.7 L1883.5 624.9 L1888.5 623 L1889.5 623 L1890.5 623.7 L1892.5 626 L1893.5 627.7 L1900 641.2 L1903.5 647.4 L1907 652.8 L1909 655.5 L1910.5 656.9 L1913.5 658.3 L1915.5 658.6 L1917.5 658.2 L1920.5 656.5 L1922 655 L1924 652 L1926.5 647.4 L1928.5 643 L1932 634.4 L1938 618.9 L1940.5 612.9 L1943 606.6 L1943.5 605.6 L1944 604.8 L1944.5 604.3 L1945.5 604.3 L1947 605.4 L1949.5 608.4 L1951.5 611.8 L1956 619.7 L1959 624.1 L1960 624.9 L1961 624.8 L1965.5 623.1 L1966.5 623 L1967.5 623.5 L1969.5 625.7 L1970.5 627.3 L1977.5 641.7 L1981 647.9 L1985.5 654.6 L1987 656.3 L1989.5 657.8 L1992 658.6 L1994 658.4 L1996.5 657.3 L1998.5 655.9 L2000 654 L2003 648.8 L2005 644.7 L2009 635 L2015.5 618.2 L2019 609.7 L2020.5 606 L2021 605.1 L2021.5 604.5 L2022 604.2 L2023 604.4 L2024.5 605.7 L2027 608.8 L2033 619.4 L2036 623.8 L2037 624.8 L2038 624.9 L2043 623 L2044 623.1 L2045 623.7 L2047 626 L2048.5 628.9 L2054.5 641.2 L2058 647.5 L2062 653.6 L2064 656.1 L2065.5 657.2 L2068.5 658.4 L2070.5 658.6 L2072.5 657.9 L2075.5 656.1 L2077 654.3 L2079.5 650.1 L2081.5 646.3 L2084.5 639.3 L2087.5 631.7 L2093 617.5 L2096 610.4 L2097.5 606.5 L2098 605.5 L2098.5 604.7 L2099 604.3 L2100 604.3 L2101.5 605.5 L2104 608.4 L2106 611.9 L2110.5 619.8 L2113.5 624.1 L2114.5 624.9 L2115.5 624.8 L2120 623.1 L2121 623 L2122 623.5 L2124 625.7 L2125 627.4 L2132 641.8 L2135.5 648 L2140 654.7 L2141.5 656.4 L2144 657.8 L2146.5 658.6 L2148.5 658.4 L2151 657.2 L2153 655.8 L2154.5 653.9 L2157.5 648.8 L2159.5 644.6 L2163.5 634.9 L2170 618.1 L2173 611 L2174.5 607.1 L2175.5 605 L2176 604.4 L2176.5 604.2 L2177.5 604.5 L2179 605.8 L2181.5 608.8 L2187.5 619.4 L2190.5 623.8 L2191.5 624.8 L2192.5 624.9 L2197 623.1 L2198.5 623.1 L2199.5 623.8 L2201.5 626.1 L2203 628.9 L2209 641.3 L2212.5 647.6 L2216.5 653.6 L2218.5 656.1 L2220 657.2 L2223 658.5 L2225 658.6 L2227 657.9 L2230 656 L2231.5 654.3 L2234 650.1 L2236 646.2 L2239.5 638 L2243 629 L2245 623.8"/>
</g>
<rect x="251.5" y="26.6" width="1016" height="117.4" fill="#fff" stroke="#000" stroke-width="4.4"/>
<path d="M280.3 85H421" stroke="#0000ff" stroke-width="8.20"/>
<path d="M591 85H732.1" stroke="#ff0000" stroke-width="8.20"/>
<path d="M944.2 85H1084.6" stroke="#bf8040" stroke-width="8.20"/>
<text stroke="#fff" stroke-width="0.85" x="440.69" y="99.40" font-size="62.07" font-style="italic" textLength="43.05" lengthAdjust="spacingAndGlyphs">V</text>
<text stroke="#fff" stroke-width="0.62" x="481.04" y="106.91" font-size="45.02" font-style="italic" textLength="84.41" lengthAdjust="spacingAndGlyphs">bus</text>
<text stroke="#fff" stroke-width="0.85" x="752.19" y="99.40" font-size="62.07" font-style="italic" textLength="43.05" lengthAdjust="spacingAndGlyphs">V</text>
<text stroke="#fff" stroke-width="0.62" x="796.19" y="106.91" font-size="45.02" font-style="italic" textLength="122.57" lengthAdjust="spacingAndGlyphs">Load</text>
<text stroke="#fff" stroke-width="0.85" x="1109.06" y="99.40" font-size="62.07" font-style="italic" textLength="24.58" lengthAdjust="spacingAndGlyphs">I</text>
<text stroke="#fff" stroke-width="0.62" x="1136.05" y="106.91" font-size="45.02" font-style="italic" textLength="83.99" lengthAdjust="spacingAndGlyphs">bus</text>
<text stroke="#fff" stroke-width="0.80" x="189.10" y="718.04" font-size="58.70" textLength="32.80" lengthAdjust="spacingAndGlyphs">0</text>
<text stroke="#fff" stroke-width="0.80" x="2268.90" y="718.04" font-size="58.70" textLength="32.80" lengthAdjust="spacingAndGlyphs">0</text>
<text stroke="#fff" stroke-width="0.80" x="188.55" y="605.74" font-size="58.70" textLength="34.68" lengthAdjust="spacingAndGlyphs">2</text>
<text stroke="#fff" stroke-width="0.80" x="2268.35" y="605.74" font-size="58.70" textLength="34.68" lengthAdjust="spacingAndGlyphs">2</text>
<text stroke="#fff" stroke-width="0.80" x="190.43" y="493.44" font-size="58.70" textLength="29.90" lengthAdjust="spacingAndGlyphs">4</text>
<text stroke="#fff" stroke-width="0.80" x="2270.23" y="493.44" font-size="58.70" textLength="29.90" lengthAdjust="spacingAndGlyphs">4</text>
<text stroke="#fff" stroke-width="0.80" x="188.80" y="381.14" font-size="58.70" textLength="32.54" lengthAdjust="spacingAndGlyphs">6</text>
<text stroke="#fff" stroke-width="0.80" x="2268.60" y="381.14" font-size="58.70" textLength="32.54" lengthAdjust="spacingAndGlyphs">6</text>
<text stroke="#fff" stroke-width="0.80" x="189.10" y="268.84" font-size="58.70" textLength="32.80" lengthAdjust="spacingAndGlyphs">8</text>
<text stroke="#fff" stroke-width="0.80" x="2268.90" y="268.84" font-size="58.70" textLength="32.80" lengthAdjust="spacingAndGlyphs">8</text>
<text stroke="#fff" stroke-width="0.80" x="154.91" y="156.54" font-size="58.70" textLength="67.05" lengthAdjust="spacingAndGlyphs">10</text>
<text stroke="#fff" stroke-width="0.80" x="2268.67" y="156.54" font-size="58.70" textLength="65.22" lengthAdjust="spacingAndGlyphs">10</text>
<text stroke="#fff" stroke-width="0.80" x="191.63" y="793.74" font-size="58.70" textLength="118.00" lengthAdjust="spacingAndGlyphs">0.15</text>
<text stroke="#fff" stroke-width="0.80" x="491.34" y="793.74" font-size="58.70" textLength="87.86" lengthAdjust="spacingAndGlyphs">0.2</text>
<text stroke="#fff" stroke-width="0.80" x="759.77" y="793.74" font-size="58.70" textLength="118.00" lengthAdjust="spacingAndGlyphs">0.25</text>
<text stroke="#fff" stroke-width="0.80" x="1059.52" y="793.74" font-size="58.70" textLength="86.65" lengthAdjust="spacingAndGlyphs">0.3</text>
<text stroke="#fff" stroke-width="0.80" x="1327.92" y="793.74" font-size="58.70" textLength="118.00" lengthAdjust="spacingAndGlyphs">0.35</text>
<text stroke="#fff" stroke-width="0.80" x="1627.72" y="793.74" font-size="58.70" textLength="84.95" lengthAdjust="spacingAndGlyphs">0.4</text>
<text stroke="#fff" stroke-width="0.80" x="1896.06" y="793.74" font-size="58.70" textLength="118.00" lengthAdjust="spacingAndGlyphs">0.45</text>
<text stroke="#fff" stroke-width="0.80" x="2195.81" y="793.74" font-size="58.70" textLength="86.65" lengthAdjust="spacingAndGlyphs">0.5</text>
<text stroke="#fff" stroke-width="1.20" x="1087.70" y="911.70" font-size="87.80" textLength="186.97" lengthAdjust="spacingAndGlyphs">Time</text>
<text stroke="#fff" stroke-width="1.27" x="1304.90" y="911.73" font-size="92.70" textLength="26.28" lengthAdjust="spacingAndGlyphs">(</text>
<text stroke="#fff" stroke-width="1.20" x="1335.27" y="911.70" font-size="87.80" font-style="italic" textLength="36.03" lengthAdjust="spacingAndGlyphs">s</text>
<text stroke="#fff" stroke-width="1.27" x="1373.72" y="911.73" font-size="92.70" textLength="26.28" lengthAdjust="spacingAndGlyphs">)</text>
<text class="e" transform="translate(79.40,0) rotate(-90)" x="-588.56" y="0" font-size="87.80" textLength="270.32" lengthAdjust="spacingAndGlyphs">Voltage</text>
<text class="e" transform="translate(79.40,0) rotate(-90)" x="-288.32" y="0" font-size="93.30" textLength="26.71" lengthAdjust="spacingAndGlyphs">(</text>
<text class="e" transform="translate(79.40,0) rotate(-90)" x="-260.00" y="0" font-size="87.80" font-style="italic" textLength="54.95" lengthAdjust="spacingAndGlyphs">V</text>
<text class="e" transform="translate(79.40,0) rotate(-90)" x="-192.01" y="0" font-size="93.30" textLength="25.93" lengthAdjust="spacingAndGlyphs">)</text>
<text class="e" transform="translate(2452.60,0) rotate(-90)" x="-608.45" y="0" font-size="87.80" textLength="315.11" lengthAdjust="spacingAndGlyphs">Amperes</text>
<text class="e" transform="translate(2452.60,0) rotate(-90)" x="-262.92" y="0" font-size="92.90" textLength="25.93" lengthAdjust="spacingAndGlyphs">(</text>
<text class="e" transform="translate(2452.60,0) rotate(-90)" x="-233.40" y="0" font-size="87.80" textLength="59.00" lengthAdjust="spacingAndGlyphs">A</text>
<text class="e" transform="translate(2452.60,0) rotate(-90)" x="-171.41" y="0" font-size="92.90" textLength="25.93" lengthAdjust="spacingAndGlyphs">)</text>
<text x="1185.74" y="1054.60" font-size="83.70" font-family="'Liberation Sans', Arial, sans-serif" textLength="24.49" lengthAdjust="spacingAndGlyphs">(</text>
<text x="1212.97" y="1054.60" font-size="71.20" font-family="'Liberation Sans', Arial, sans-serif" font-weight="bold" textLength="38.59" lengthAdjust="spacingAndGlyphs">a</text>
<text x="1256.66" y="1054.60" font-size="83.70" font-family="'Liberation Sans', Arial, sans-serif" textLength="24.74" lengthAdjust="spacingAndGlyphs">)</text>
<clipPath id="clipB"><rect x="301" y="1243.4" width="1864" height="657.4"/></clipPath>
<path d="M301 1874.5H2165M301 1769.3H2165M301 1664.1H2165M301 1559H2165M301 1453.8H2165M301 1348.6H2165M301 1900.8V1243.4M567.3 1900.8V1243.4M833.6 1900.8V1243.4M1099.9 1900.8V1243.4M1366.1 1900.8V1243.4M1632.4 1900.8V1243.4M1898.7 1900.8V1243.4M2165 1900.8V1243.4" stroke="#d9d9d9" stroke-width="7.1" stroke-dasharray="23.81 22.42" fill="none"/>
<path d="M301 1874.5h32.8M2165 1874.5h-32.8M301 1769.3h32.8M2165 1769.3h-32.8M301 1664.1h32.8M2165 1664.1h-32.8M301 1559h32.8M2165 1559h-32.8M301 1453.8h32.8M2165 1453.8h-32.8M301 1348.6h32.8M2165 1348.6h-32.8M567.3 1900.8v-32.8M567.3 1243.4v32.8M833.6 1900.8v-32.8M833.6 1243.4v32.8M1099.9 1900.8v-32.8M1099.9 1243.4v32.8M1366.1 1900.8v-32.8M1366.1 1243.4v32.8M1632.4 1900.8v-32.8M1632.4 1243.4v32.8M1898.7 1900.8v-32.8M1898.7 1243.4v32.8" stroke="#7f7f7f" stroke-width="1.7" fill="none"/>
<rect x="301" y="1243.4" width="1864" height="657.4" fill="none" stroke="#000" stroke-width="4.1"/>
<g clip-path="url(#clipB)" fill="none" stroke-linejoin="round" stroke-linecap="round">
<path stroke="#0000ff" stroke-width="8.00" d="M295 1505.8 L564.5 1505.8 L567.5 1503.8 L568.5 1503.9 L569.5 1504.8 L570.5 1506.5 L571.5 1509.1 L572.5 1512.5 L573.5 1516.4 L575 1523.3 L579 1543.5 L580.5 1550.3 L581.5 1554.1 L582.5 1557.3 L583.5 1559.7 L584.5 1561.4 L585.5 1562.1 L587 1561.8 L588.5 1560.6 L590 1558.5 L591.5 1555.6 L593 1552 L594.5 1547.8 L596.5 1541.3 L602.5 1520.4 L604.5 1514.1 L606 1509.9 L607.5 1506.4 L609 1503.7 L610.5 1501.8 L612 1500.8 L613.5 1500.6 L615 1501.2 L616.5 1502.4 L618.5 1504.8 L620.5 1508.1 L623.5 1514 L628 1523.4 L630.5 1527.9 L632.5 1530.7 L634 1532.1 L635.5 1533 L637 1533.2 L638.5 1532.8 L640 1531.8 L642 1529.7 L644 1526.7 L646.5 1521.9 L653.5 1506.6 L656 1501.9 L658 1498.8 L660 1496.7 L661.5 1495.7 L663 1495.3 L665 1495.6 L667 1496.6 L669.5 1498.8 L672.5 1502.4 L680 1513.2 L682.5 1516.3 L685 1518.5 L687 1519.6 L689 1520 L691 1519.7 L693.5 1518.5 L696 1516.3 L699 1512.8 L705.5 1504.3 L708.5 1501.2 L711 1499.4 L713 1498.6 L715.5 1498.6 L718 1499.2 L721 1500.9 L725 1504.1 L731.5 1510 L735 1512.4 L738 1513.5 L740.5 1513.7 L743.5 1513.2 L747 1511.7 L752.5 1508 L758 1504.3 L761.5 1502.7 L764.5 1502.2 L768.5 1502.5 L773 1503.8 L784.5 1508.8 L789 1509.9 L793 1510 L797.5 1509.2 L804.5 1506.7 L811 1504.5 L815.5 1503.8 L820.5 1504 L827 1505.3 L836 1507.4 L841.5 1507.9 L847.5 1507.5 L863 1504.4 L869 1504 L875.5 1504.6 L888.5 1506.9 L894.5 1507.1 L901.5 1506.5 L914.5 1504.5 L921 1504.3 L929 1505 L941 1506.7 L948 1506.8 L957 1505.9 L967 1504.7 L974.5 1504.6 L993 1506.6 L1001 1506.5 L1019 1504.9 L1028 1505 L1046 1506.3 L1056 1506.1 L1073 1505.1 L1104.5 1505.6 L1150 1505.3 L2170.5 1505.3"/>
<path stroke="#ff0000" stroke-width="7.20" d="M295 1679.4 L2170.5 1679.4"/>
<path stroke="#bf8040" stroke-width="7.00" d="M295 1844.8 L566.5 1844.7 L568.5 1843.7 L570.5 1841.6 L577 1833.7 L584 1824.4 L594 1810.3 L597 1806.6 L600 1803.9 L601.5 1803.2 L604.5 1803.5 L608 1804.9 L613 1807.9 L619 1811.9 L622.5 1813.5 L625.5 1814.2 L629 1814.1 L632.5 1813.1 L637.5 1810.7 L644.5 1806.8 L648.5 1805.3 L652 1804.9 L655.5 1805.3 L660 1806.8 L670.5 1811.9 L674.5 1813.2 L678 1813.5 L682 1813.1 L687 1811.6 L696.5 1807.9 L701 1806.9 L705 1806.8 L709.5 1807.5 L718.5 1810.6 L724 1812.1 L728.5 1812.5 L734.5 1811.9 L748.5 1809.1 L754 1808.7 L761 1809.2 L775.5 1811.6 L782 1811.8 L791 1811 L802.5 1809.6 L810.5 1809.6 L829 1810.8 L840 1810.6 L855.5 1809.7 L869 1810.1 L883.5 1810.6 L909.5 1809.9 L936 1810.4 L964 1810 L999.5 1810.2 L2170.5 1810.1"/>
</g>
<rect x="306" y="1245" width="952" height="110" fill="#fff" stroke="#000" stroke-width="4.1"/>
<path d="M331.9 1299.4H465" stroke="#0000ff" stroke-width="7.20"/>
<path d="M623.9 1299.4H756" stroke="#ff0000" stroke-width="7.20"/>
<path d="M955.1 1299.5H1087" stroke="#bf8040" stroke-width="7.20"/>
<text stroke="#fff" stroke-width="0.79" x="483.63" y="1312.34" font-size="57.89" font-style="italic" textLength="39.45" lengthAdjust="spacingAndGlyphs">V</text>
<text stroke="#fff" stroke-width="0.57" x="520.38" y="1321.18" font-size="41.65" font-style="italic" textLength="79.95" lengthAdjust="spacingAndGlyphs">bus</text>
<text stroke="#fff" stroke-width="0.79" x="774.33" y="1312.34" font-size="57.89" font-style="italic" textLength="39.45" lengthAdjust="spacingAndGlyphs">V</text>
<text stroke="#fff" stroke-width="0.57" x="815.47" y="1321.18" font-size="41.65" font-style="italic" textLength="114.28" lengthAdjust="spacingAndGlyphs">Load</text>
<text stroke="#fff" stroke-width="0.79" x="1108.18" y="1312.34" font-size="57.89" font-style="italic" textLength="23.82" lengthAdjust="spacingAndGlyphs">I</text>
<text stroke="#fff" stroke-width="0.57" x="1133.88" y="1321.18" font-size="41.65" font-style="italic" textLength="80.05" lengthAdjust="spacingAndGlyphs">bus</text>
<text stroke="#fff" stroke-width="0.76" x="242.71" y="1892.50" font-size="55.83" textLength="31.57" lengthAdjust="spacingAndGlyphs">0</text>
<text stroke="#fff" stroke-width="0.76" x="2192.09" y="1892.50" font-size="55.83" textLength="30.63" lengthAdjust="spacingAndGlyphs">0</text>
<text stroke="#fff" stroke-width="0.76" x="242.18" y="1787.32" font-size="55.83" textLength="33.38" lengthAdjust="spacingAndGlyphs">2</text>
<text stroke="#fff" stroke-width="0.76" x="2191.57" y="1787.32" font-size="55.83" textLength="32.38" lengthAdjust="spacingAndGlyphs">2</text>
<text stroke="#fff" stroke-width="0.76" x="243.99" y="1682.14" font-size="55.83" textLength="28.79" lengthAdjust="spacingAndGlyphs">4</text>
<text stroke="#fff" stroke-width="0.76" x="2193.33" y="1682.14" font-size="55.83" textLength="27.93" lengthAdjust="spacingAndGlyphs">4</text>
<text stroke="#fff" stroke-width="0.76" x="242.43" y="1576.96" font-size="55.83" textLength="31.32" lengthAdjust="spacingAndGlyphs">6</text>
<text stroke="#fff" stroke-width="0.76" x="2191.81" y="1576.96" font-size="55.83" textLength="30.38" lengthAdjust="spacingAndGlyphs">6</text>
<text stroke="#fff" stroke-width="0.76" x="242.71" y="1471.78" font-size="55.83" textLength="31.57" lengthAdjust="spacingAndGlyphs">8</text>
<text stroke="#fff" stroke-width="0.76" x="2192.09" y="1471.78" font-size="55.83" textLength="30.63" lengthAdjust="spacingAndGlyphs">8</text>
<text stroke="#fff" stroke-width="0.76" x="211.50" y="1366.60" font-size="55.83" textLength="62.77" lengthAdjust="spacingAndGlyphs">10</text>
<text stroke="#fff" stroke-width="0.76" x="2191.74" y="1366.60" font-size="55.83" textLength="62.31" lengthAdjust="spacingAndGlyphs">10</text>
<text stroke="#fff" stroke-width="0.76" x="244.84" y="1963.65" font-size="55.83" textLength="111.58" lengthAdjust="spacingAndGlyphs">0.15</text>
<text stroke="#fff" stroke-width="0.76" x="527.36" y="1963.65" font-size="55.83" textLength="80.14" lengthAdjust="spacingAndGlyphs">0.2</text>
<text stroke="#fff" stroke-width="0.76" x="777.41" y="1963.65" font-size="55.83" textLength="111.58" lengthAdjust="spacingAndGlyphs">0.25</text>
<text stroke="#fff" stroke-width="0.76" x="1059.97" y="1963.65" font-size="55.83" textLength="79.04" lengthAdjust="spacingAndGlyphs">0.3</text>
<text stroke="#fff" stroke-width="0.76" x="1309.98" y="1963.65" font-size="55.83" textLength="111.58" lengthAdjust="spacingAndGlyphs">0.35</text>
<text stroke="#fff" stroke-width="0.76" x="1592.59" y="1963.65" font-size="55.83" textLength="77.49" lengthAdjust="spacingAndGlyphs">0.4</text>
<text stroke="#fff" stroke-width="0.76" x="1842.55" y="1963.65" font-size="55.83" textLength="111.58" lengthAdjust="spacingAndGlyphs">0.45</text>
<text stroke="#fff" stroke-width="0.76" x="2125.11" y="1963.65" font-size="55.83" textLength="79.04" lengthAdjust="spacingAndGlyphs">0.5</text>
<text stroke="#fff" stroke-width="1.11" x="1086.04" y="2073.86" font-size="81.37" textLength="175.70" lengthAdjust="spacingAndGlyphs">Time</text>
<text stroke="#fff" stroke-width="1.18" x="1289.86" y="2073.89" font-size="86.47" textLength="23.83" lengthAdjust="spacingAndGlyphs">(</text>
<text stroke="#fff" stroke-width="1.11" x="1318.32" y="2073.86" font-size="81.37" font-style="italic" textLength="32.68" lengthAdjust="spacingAndGlyphs">s</text>
<text stroke="#fff" stroke-width="1.18" x="1354.10" y="2073.89" font-size="86.47" textLength="23.83" lengthAdjust="spacingAndGlyphs">)</text>
<text class="e" transform="translate(140.50,0) rotate(-90)" x="-1772.20" y="0" font-size="81.80" textLength="253.78" lengthAdjust="spacingAndGlyphs">Voltage</text>
<text class="e" transform="translate(140.50,0) rotate(-90)" x="-1490.00" y="0" font-size="86.50" textLength="24.25" lengthAdjust="spacingAndGlyphs">(</text>
<text class="e" transform="translate(140.50,0) rotate(-90)" x="-1465.08" y="0" font-size="81.80" font-style="italic" textLength="52.43" lengthAdjust="spacingAndGlyphs">V</text>
<text class="e" transform="translate(140.50,0) rotate(-90)" x="-1399.76" y="0" font-size="86.50" textLength="23.34" lengthAdjust="spacingAndGlyphs">)</text>
<text class="e" transform="translate(2365.40,0) rotate(-90)" x="-1791.60" y="0" font-size="81.80" textLength="297.48" lengthAdjust="spacingAndGlyphs">Amperes</text>
<text class="e" transform="translate(2365.40,0) rotate(-90)" x="-1465.18" y="0" font-size="86.50" textLength="23.34" lengthAdjust="spacingAndGlyphs">(</text>
<text class="e" transform="translate(2365.40,0) rotate(-90)" x="-1439.35" y="0" font-size="81.80" textLength="55.51" lengthAdjust="spacingAndGlyphs">A</text>
<text class="e" transform="translate(2365.40,0) rotate(-90)" x="-1379.76" y="0" font-size="86.50" textLength="23.34" lengthAdjust="spacingAndGlyphs">)</text>
<text x="1180.49" y="2295.70" font-size="83.80" font-family="'Liberation Sans', Arial, sans-serif" textLength="24.74" lengthAdjust="spacingAndGlyphs">(</text>
<text x="1202.99" y="2295.70" font-size="82.90" font-family="'Liberation Sans', Arial, sans-serif" font-weight="bold" textLength="54.79" lengthAdjust="spacingAndGlyphs">b</text>
<text x="1261.67" y="2295.70" font-size="83.80" font-family="'Liberation Sans', Arial, sans-serif" textLength="24.62" lengthAdjust="spacingAndGlyphs">)</text>
</svg></body></html>
